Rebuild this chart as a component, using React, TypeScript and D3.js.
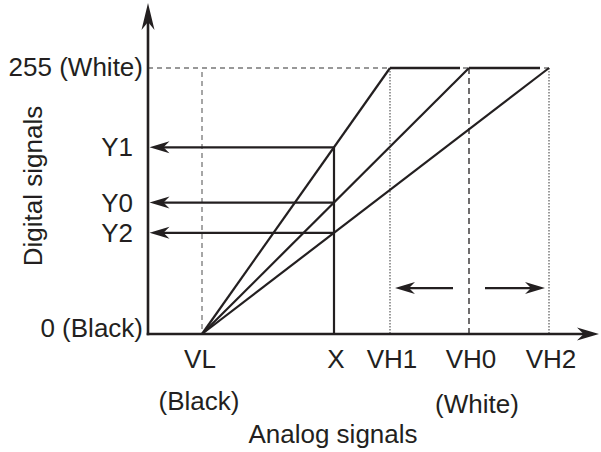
import * as d3 from "d3";

// analog axis (horizontal) ticks, in arbitrary analog units
const analogNames = ["VL", "X", "VH1", "VH0", "VH2"];
const analogValues = [54, 186, 242, 321, 401];

// digital axis (vertical) levels
const digitalNames = ["0 (Black)", "Y2", "Y0", "Y1", "255 (White)"];
const digitalValues = [0, 97, 126, 179, 255];

// transfer curves: start at VL, reach 255 at each VH
const curveEnds = ["VH1", "VH0", "VH2"];
const readouts = ["Y1", "Y0", "Y2"];

const W = 601;
const H = 452;
const ink = "#231f20";
const font = "'Liberation Sans', Arial, Helvetica, sans-serif";

const x = d3.scaleLinear().domain([0, 452]).range([148, 600]);
const y = d3.scaleLinear().domain([0, 255]).range([334, 68]);

const av = (n: string) => analogValues[analogNames.indexOf(n)];
const dv = (n: string) => digitalValues[digitalNames.indexOf(n)];

function head(tx: number, ty: number, angle: number, len: number, half: number) {
  const p = d3.path();
  p.moveTo(0, 0);
  p.lineTo(-len, -half);
  p.lineTo(-len * 0.7, 0);
  p.lineTo(-len, half);
  p.closePath();
  return (
    <path
      d={p.toString()}
      fill={ink}
      transform={`translate(${tx},${ty}) rotate(${angle})`}
    />
  );
}

export default function App() {
  const x0 = x(0);
  const y0 = y(0);
  const top = y(255);
  const line = d3.line<[number, number]>();

  return (
    <svg
      width={W}
      height={H}
      style={{ position: "absolute", left: 0, top: 0, background: "#fff" }}
      fontFamily={font}
      fontSize={26}
      fill={ink}
    >
      {/* 255 guide */}
      <line x1={x0} x2={x(av("VH2"))} y1={top} y2={top} stroke="#777" strokeWidth={1.3} strokeDasharray="5 4" />
      {/* vertical guides */}
      <line x1={x(av("VL"))} x2={x(av("VL"))} y1={top + 4} y2={y0} stroke="#777" strokeWidth={1.3} strokeDasharray="5 4" />
      <line x1={x(av("VH1"))} x2={x(av("VH1"))} y1={top} y2={y0} stroke="#666" strokeWidth={1.3} strokeDasharray="1.5 1.5" />
      <line x1={x(av("VH0"))} x2={x(av("VH0"))} y1={top} y2={y0} stroke={ink} strokeWidth={1.3} strokeDasharray="6 4" />
      <line x1={x(av("VH2"))} x2={x(av("VH2"))} y1={top} y2={y0} stroke="#666" strokeWidth={1.3} strokeDasharray="1.5 1.5" />

      {/* transfer curves */}
      {curveEnds.map((e) => (
        <path
          key={e}
          d={line([
            [x(av("VL")), y(0)],
            [x(av(e)), y(255)],
          ])!}
          stroke={ink}
          strokeWidth={2.2}
          fill="none"
        />
      ))}
      {/* saturation */}
      <line x1={x(av("VH1"))} x2={x(av("VH0")) - 9} y1={top} y2={top} stroke={ink} strokeWidth={2.6} />
      <line x1={x(av("VH0"))} x2={x(av("VH2")) - 9} y1={top} y2={top} stroke={ink} strokeWidth={2.6} />

      {/* X vertical */}
      <line x1={x(av("X"))} x2={x(av("X"))} y1={y0} y2={y(dv("Y1"))} stroke={ink} strokeWidth={2.2} />
      {/* readout arrows */}
      {readouts.map((r) => (
        <g key={r}>
          <line x1={x(av("X"))} x2={x0 + 12} y1={y(dv(r))} y2={y(dv(r))} stroke={ink} strokeWidth={2.2} />
          {head(x0 + 1.5, y(dv(r)), 180, 20, 6)}
        </g>
      ))}

      {/* range arrows */}
      <line x1={x(av("VH0")) - 16} x2={x(av("VH1")) + 12} y1={y(44)} y2={y(44)} stroke={ink} strokeWidth={2.2} />
      {head(x(av("VH1")) + 5, y(44), 180, 20, 6)}
      <line x1={x(av("VH0")) + 16} x2={x(av("VH2")) - 14} y1={y(44)} y2={y(44)} stroke={ink} strokeWidth={2.2} />
      {head(x(av("VH2")) - 4, y(44), 0, 20, 6)}

      {/* axes */}
      <line x1={x0} x2={x0} y1={y0 + 1.3} y2={16} stroke={ink} strokeWidth={2.6} />
      {head(x0, 3, -90, 27, 6.5)}
      <line x1={x0 - 1.3} x2={585} y1={y0} y2={y0} stroke={ink} strokeWidth={2.6} />
      {head(599, y0, 0, 22, 6.5)}

      {/* digital labels */}
      {digitalNames.map((n, i) => {
        const wide = n.includes("(");
        return (
          <text
            key={n}
            x={wide ? 143 : 133}
            y={y(digitalValues[i]) + (wide ? (i === 0 ? 3 : 8) : 9)}
            textAnchor="end"
          >
            {n}
          </text>
        );
      })}

      {/* analog labels */}
      {analogNames.map((n, i) => (
        <text key={n} x={x(analogValues[i]) + (n === "VL" ? -2 : 2)} y={368} textAnchor="middle">
          {n}
        </text>
      ))}
      <text x={x(av("VL")) - 3} y={410} textAnchor="middle">(Black)</text>
      <text x={x(av("VH0")) + 8} y={413} textAnchor="middle">(White)</text>

      <text x={333} y={443} textAnchor="middle">Analog signals</text>
      <text transform="translate(42,186) rotate(-90)" textAnchor="middle">Digital signals</text>
    </svg>
  );
}
